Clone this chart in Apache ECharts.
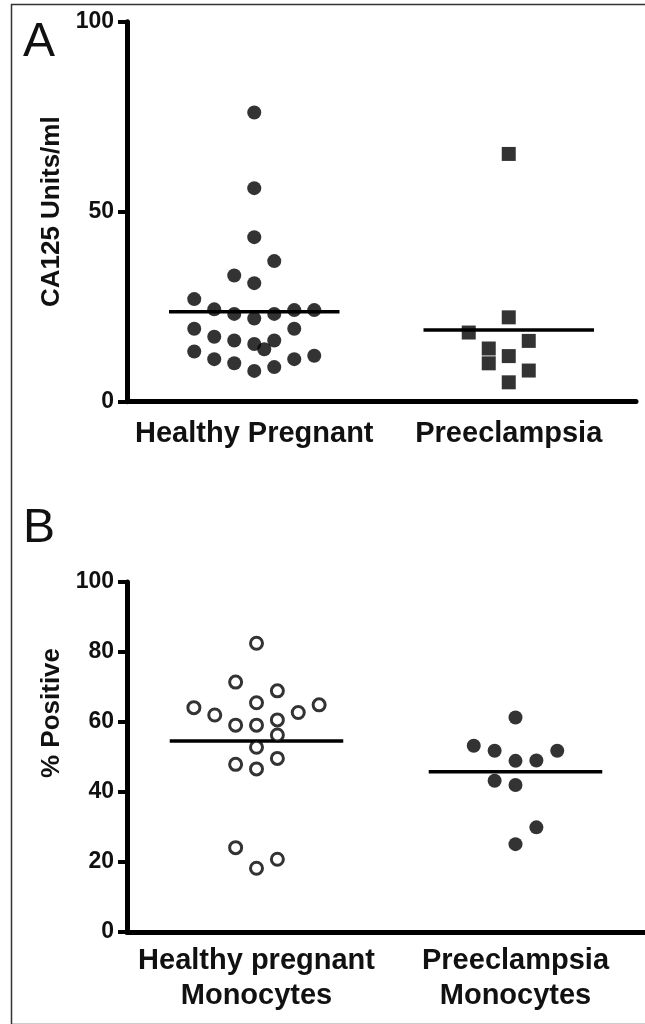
<!DOCTYPE html>
<html><head><meta charset="utf-8">
<script src="https://cdn.jsdelivr.net/npm/echarts@6/dist/echarts.min.js"></script>
<style>html,body{margin:0;padding:0;background:#fff}#c{width:645px;height:1024px}</style>
</head><body><div id="c"></div>
<script>
// ---------- Panel A data ----------
const catsA = ['Healthy Pregnant', 'Preeclampsia'];
const healthyA = [76.1,56.2,43.3,37.0,33.2,31.2,27.0,24.3,23.1,21.9,23.1,24.1,24.1,19.2,19.2,17.1,16.1,15.2,16.1,13.8,13.2,11.2,10.1,8.1,9.1,11.2,12.1];
const healthyASlot = [0,0,0,1,-1,0,-3,-2,-1,0,1,2,3,-3,2,-2,-1,0,1,0.5,-3,-2,-1,0,1,2,3];
const preA = [65.2,22.2,18.2,14.0,10.1,16.0,12.0,8.2,5.1];
const preASlot = [0,0,-2,-1,-1,1,0,1,0];
const meansA = [23.7, 18.9];
const yTicksA = {min: 0, max: 100, interval: 50};

// ---------- Panel B data ----------
const catsB = ['Healthy pregnant\nMonocytes', 'Preeclampsia\nMonocytes'];
const healthyB = [82.5,71.4,68.9,65.5,64.1,64.9,62.0,62.7,59.1,59.1,60.6,56.3,52.8,47.9,49.6,46.6,24.1,18.2,20.8];
const healthyBSlot = [0,-1,1,0,-3,3,-2,2,-1,0,1,1,0,-1,1,0,-1,0,1];
const preB = [61.3,53.2,51.8,51.8,48.9,49.0,43.2,42.0,29.9,25.1];
const preBSlot = [0,-2,-1,2,0,1,-1,0,1,0];
const meansB = [54.6, 45.8];
const yTicksB = {min: 0, max: 100, interval: 20};

// ---------- layout helpers ----------
const FONT = 'Arial, "Liberation Sans", sans-serif';
const slotA = 0.0786, slotB = 0.0806, halfLine = 0.335;
const pts = (vals, slots, cat, w) => vals.map((v, i) => [cat + 0.5 + slots[i] * w, v]);
const meanLine = (m, cat, xi, yi) => ({
  type: 'line', xAxisIndex: xi, yAxisIndex: yi, symbol: 'none', silent: true, z: 1,
  lineStyle: {color: '#000', width: 3.5}, data: [[cat + 0.5 - halfLine, m], [cat + 0.5 + halfLine, m]]
});
const catAxis = (gi, data, margin, lh) => ({
  type: 'category', gridIndex: gi, data: data, boundaryGap: true,
  axisLine: {lineStyle: {color: '#000', width: 5}},
  axisTick: {alignWithLabel: true, length: 9, lineStyle: {width: 4, color: '#000'}},
  axisLabel: {color: '#111', fontFamily: FONT, fontWeight: 'bold', fontSize: 29, margin: margin, lineHeight: lh, interval: 0}
});
const hidX = gi => ({type: 'value', gridIndex: gi, min: 0, max: 2, show: false});
const valAxis = (gi, t, name, gap, pad) => ({
  type: 'value', gridIndex: gi, min: t.min, max: t.max, interval: t.interval,
  axisLine: {show: true, lineStyle: {color: '#000', width: 5}},
  axisTick: {show: true, length: 9, lineStyle: {width: 4, color: '#000'}},
  splitLine: {show: false},
  axisLabel: {color: '#111', fontFamily: FONT, fontWeight: 'bold', fontSize: 23, margin: 13},
  name: name, nameLocation: 'middle', nameGap: gap, nameRotate: 90,
  nameTextStyle: {color: '#111', fontFamily: FONT, fontWeight: 'bold', fontSize: 26, padding: pad}
});

const chart = echarts.init(document.getElementById('c'), null, {renderer: 'canvas'});
chart.setOption({
  backgroundColor: '#fff',
  animation: false,
  grid: [
    {left: 127, top: 21.7, right: 9, bottom: 622.3},
    {left: 127, top: 582, right: -3, bottom: 92}
  ],
  xAxis: [catAxis(0, catsA, 17, 30), hidX(0), catAxis(1, catsB, 11, 35), hidX(1)],
  yAxis: [valAxis(0, yTicksA, 'CA125 Units/ml', 56, [0, 0, 0, 0]), valAxis(1, yTicksB, '% Positive', 56, [0, 0, 0, 88])],
  graphic: [
    {type: 'rect', left: 9, top: 2, shape: {width: 700, height: 1020}, style: {fill: 'none', stroke: '#333', lineWidth: 1.5}, silent: true},
    {type: 'text', left: 23, top: 19, style: {text: 'A', font: '48px ' + FONT, fill: '#111'}},
    {type: 'text', left: 23, top: 505, style: {text: 'B', font: '48px ' + FONT, fill: '#111'}}
  ],
  series: [
    meanLine(meansA[0], 0, 1, 0),
    meanLine(meansA[1], 1, 1, 0),
    {type: 'scatter', xAxisIndex: 1, yAxisIndex: 0, symbol: 'circle', symbolSize: 14, itemStyle: {color: '#000'}, data: pts(healthyA, healthyASlot, 0, slotA), z: 3},
    {type: 'scatter', xAxisIndex: 1, yAxisIndex: 0, symbol: 'rect', symbolSize: 14, itemStyle: {color: '#000'}, data: pts(preA, preASlot, 1, slotA), z: 3},
    meanLine(meansB[0], 0, 3, 1),
    meanLine(meansB[1], 1, 3, 1),
    {type: 'scatter', xAxisIndex: 3, yAxisIndex: 1, symbol: 'circle', symbolSize: 12, itemStyle: {color: '#fff', borderColor: '#000', borderWidth: 3}, data: pts(healthyB, healthyBSlot, 0, slotB), z: 3},
    {type: 'scatter', xAxisIndex: 3, yAxisIndex: 1, symbol: 'circle', symbolSize: 14, itemStyle: {color: '#000'}, data: pts(preB, preBSlot, 1, slotB), z: 3}
  ]
});
</script></body></html>
